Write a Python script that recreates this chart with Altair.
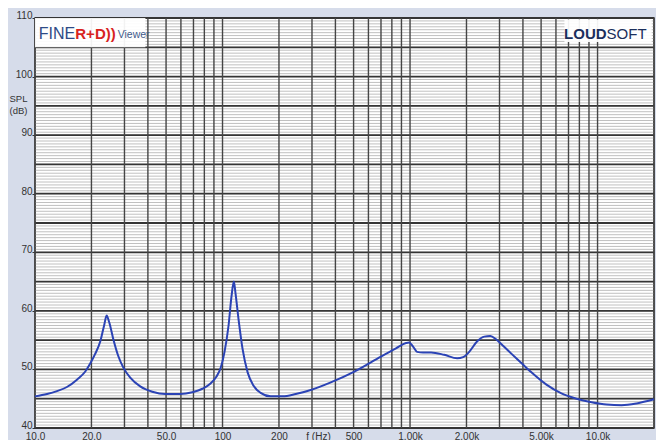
import altair as alt
import pandas as pd

# ---- data ----
freq = [10.0, 11.6, 13.1, 14.8, 16.8, 18.5, 19.7, 20.9, 22.3, 23.4, 24.1, 24.9, 26.1, 27.8,
        29.5, 32.2, 36.4, 42.2, 49.6, 59.6, 69.1, 78.2, 86.3, 92.9, 97.6, 102.5, 107.7,
        111.7, 114.9, 117.3, 121.8, 127.9, 136.1, 146.5, 159.7, 180.6, 209.4, 245.7,
        295.5, 378.0, 501.7, 699.7, 841.7, 951.9, 987.8, 1038, 1090, 1173, 1295, 1520,
        1784, 1920, 2068, 2282, 2487, 2678, 2884, 3144, 3468, 3923, 4437, 5338, 6420,
        7723, 9289, 11170, 13440, 16170, 20000]
spl = [45.4, 45.8, 46.3, 47.0, 48.3, 49.6, 51.0, 52.6, 54.8, 57.6, 59.2, 58.0, 55.3, 52.3,
       50.4, 48.6, 47.1, 46.2, 45.8, 45.8, 46.1, 46.7, 47.6, 48.8, 50.2, 53.0, 57.5,
       62.5, 65.0, 63.0, 58.5, 53.5, 49.5, 47.2, 46.0, 45.4, 45.4, 45.8,
       46.5, 47.8, 49.6, 52.2, 53.6, 54.5, 54.6, 53.9, 53.0, 52.9, 52.9, 52.5,
       51.9, 52.1, 53.0, 54.8, 55.6, 55.7, 55.1, 54.0, 52.7, 51.1, 49.5, 47.4, 45.9,
       45.0, 44.4, 44.0, 43.9, 44.2, 44.9]

x_tick_values = [10, 20, 50, 100, 200, 500, 1000, 2000, 5000, 10000]
y_tick_values = [40, 50, 60, 70, 80, 90, 100, 110]

vgrid_values = [10, 20, 30, 40, 50, 60, 70, 80, 90,
                100, 200, 300, 400, 500, 600, 700, 800, 900,
                1000, 2000, 3000, 4000, 5000, 6000, 7000, 8000, 9000,
                10000, 20000]
hgrid_major = [40, 45, 50, 55, 60, 65, 70, 75, 80, 85, 90, 95, 100, 105, 110]
hgrid_minor = [40 + 0.5 * i for i in range(141)]

logo_left_box = pd.DataFrame({"x": [10], "x2": [38.8], "y": [105], "y2": [110]})
logo_right_box = pd.DataFrame({"x": [6660], "x2": [19450], "y": [105.9], "y2": [109.8]})

# ---- scales & axes ----
xs = alt.Scale(type="log", domain=[10, 20000], nice=False)
ys = alt.Scale(domain=[40, 110], nice=False, zero=False)

label_expr = (
    "datum.value >= 10000 ? '10.0k' : "
    "datum.value >= 1000 ? format(datum.value/1000, '.2f') + 'k' : "
    "datum.value >= 100 ? format(datum.value, 'd') : format(datum.value, '.1f')"
)

x_axis = alt.Axis(values=x_tick_values, labelExpr=label_expr, grid=False,
                  ticks=False, domain=False, labelPadding=3, labelBaseline="top",
                  labelFontSize=10, labelColor="#333333", labelFont="Liberation Sans",
                  labelFlush=False, labelOverlap=False,
                  title="f (Hz)", titleFontSize=10, titleFontWeight="normal",
                  titleFont="Liberation Sans", titleColor="#333333",
                  titleAnchor="start", titleAlign="center", titleX=283, titleY=3,
                  titleBaseline="top")
y_axis = alt.Axis(values=y_tick_values, grid=False, ticks=True, tickSize=3,
                  tickColor="#333333", domain=False, labelPadding=0, labelOffset=-2.5,
                  labelFontSize=10, labelColor="#333333", labelFont="Liberation Sans",
                  labelFlush=False, labelOverlap=False,
                  title=["SPL", "(dB)"], titleAngle=0, titleFontSize=9.5,
                  titleFontWeight="normal", titleFont="Liberation Sans",
                  titleColor="#333333", titleAlign="left", titleBaseline="middle",
                  titleX=-26, titleY=80, titleLineHeight=12)

curve = pd.DataFrame({"f": freq, "spl": spl})

minor = alt.Chart(pd.DataFrame({"v": hgrid_minor})).mark_rule(
    color="#b9b9b9", strokeWidth=0.9
).encode(y=alt.Y("v:Q", scale=ys, axis=y_axis))

major = alt.Chart(pd.DataFrame({"v": hgrid_major})).mark_rule(
    color="#353535", strokeWidth=1.8
).encode(y=alt.Y("v:Q", scale=ys, axis=y_axis))

vert = alt.Chart(pd.DataFrame({"v": vgrid_values})).mark_rule(
    color="#454545", strokeWidth=1.4
).encode(x=alt.X("v:Q", scale=xs, axis=x_axis))

line = alt.Chart(curve).mark_line(color="#2b43b5", strokeWidth=2, interpolate="monotone").encode(
    x=alt.X("f:Q", scale=xs, axis=x_axis),
    y=alt.Y("spl:Q", scale=ys, axis=y_axis),
)

box_l = alt.Chart(logo_left_box).mark_rect(fill="white", opacity=0.93).encode(
    x=alt.X("x:Q", scale=xs, axis=x_axis), x2="x2", y=alt.Y("y:Q", scale=ys, axis=y_axis), y2="y2")
box_r = alt.Chart(logo_right_box).mark_rect(fill="white", opacity=0.93).encode(
    x=alt.X("x:Q", scale=xs, axis=x_axis), x2="x2", y=alt.Y("y:Q", scale=ys, axis=y_axis), y2="y2")

def logo_text(txt, fx, dy, align, color, size, weight="normal"):
    return alt.Chart(pd.DataFrame({"x": [fx], "y": [dy], "t": [txt]})).mark_text(
        align=align, baseline="alphabetic", color=color, fontSize=size,
        fontWeight=weight, font="Liberation Sans"
    ).encode(x=alt.X("x:Q", scale=xs, axis=x_axis), y=alt.Y("y:Q", scale=ys, axis=y_axis),
             text="t:N")

t_fine = logo_text("FINE", 16.4, 106.4, "right", "#2d4a86", 16)
t_rd = logo_text("R+D))", 16.4, 106.4, "left", "#d8231e", 15, "bold")
t_view = logo_text("Viewer", 27.6, 106.6, "left", "#3f5a8a", 10.5)
t_loud = logo_text("LOUD", 11170, 106.4, "right", "#1b2f5c", 15, "bold")
t_soft = logo_text("SOFT", 11170, 106.4, "left", "#1b2f5c", 15)

chart = alt.layer(
    minor, major, vert, line, box_l, box_r, t_fine, t_rd, t_view, t_loud, t_soft
).properties(
    width=619, height=410,
    autosize=alt.AutoSizeParams(type="none"),
    padding={"left": 27, "top": 10, "right": 2, "bottom": 12},
    background="#d6dcea",
).configure_view(fill="white", stroke="#333333", strokeWidth=1.5)

chart.save("out.html", embed_options={"renderer": "svg", "actions": False})
